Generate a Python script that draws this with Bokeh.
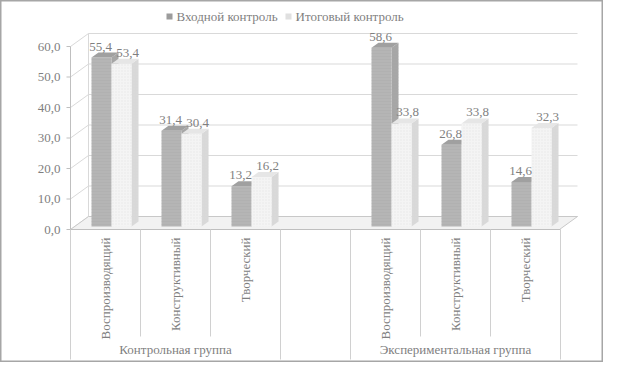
import math
from bokeh.plotting import figure
from bokeh.models import Range1d
from bokeh.core.properties import value
from bokeh.embed import file_html
from bokeh.resources import INLINE

# ---- data ----
categories = ["Воспроизводящий", "Конструктивный", "Творческий", "",
              "Воспроизводящий", "Конструктивный", "Творческий"]
groups = ["Контрольная группа", "", "Экспериментальная группа"]
group_spans = [(0, 3), (3, 4), (4, 7)]
series_names = ["Входной контроль", "Итоговый контроль"]
entry = [55.4, 31.4, 13.2, None, 58.6, 26.8, 14.6]
final = [53.4, 30.4, 16.2, None, 33.8, 33.8, 32.3]
y_ticks = [0, 10, 20, 30, 40, 50, 60]
y_tick_labels = ["0,0", "10,0", "20,0", "30,0", "40,0", "50,0", "60,0"]

W, H = 603, 362
PXU = 70.0   # pixels per category
PYU = 3.05   # pixels per value unit
PX = 1 / PXU
PY = 1 / PYU
X0, Y0 = 70, 229   # pixel position of the axes origin
FONT = value("Liberation Serif")
TXT = "#7f7f7f"
FS = "13px"

p = figure(width=W, height=H, output_backend="svg", toolbar_location=None,
           x_range=Range1d(-X0 / PXU, (W - X0) / PXU),
           y_range=Range1d((Y0 - H) / PYU, Y0 / PYU),
           min_border=0)
p.axis.visible = False
p.grid.visible = False
p.outline_line_color = "#a6a6a6"
p.outline_line_width = 2
p.background_fill_color = "white"

n = len(categories)
DX, DY = 18 * PX, 13 * PY   # wall depth

# back-wall gridlines and side diagonals
for t in y_ticks:
    p.line([DX, n + 17 * PX], [t + DY, t + DY], line_color="#d9d9d9", line_width=1)
    p.line([0, DX], [t, t + DY], line_color="#d9d9d9", line_width=1)
p.line([DX, DX], [DY, y_ticks[-1] + DY], line_color="#d9d9d9")
p.line([0, 0], [0, y_ticks[-1]], line_color="#bfbfbf")
# floor
p.patch([0, n - 1 * PX, n + 17 * PX, DX], [0, 0, DY, DY],
        fill_color="#f2f2f2", line_color="#c8c8c8")
# y ticks
for t in y_ticks:
    p.line([-4 * PX, 0], [t, t], line_color="#bfbfbf")
p.text(x=[-10 * PX] * len(y_ticks), y=y_ticks, text=y_tick_labels,
       text_align="right", text_baseline="middle", text_font=FONT,
       text_font_size=FS, text_color=TXT)

# category axis
p.line([0, n], [0, 0], line_color="#bfbfbf")
short_end = -107 * PY
long_end = -130 * PY
long_idx = set()
for a, b in group_spans:
    long_idx.add(a)
    long_idx.add(b)
for i in range(n + 1):
    p.line([i, i], [0, long_end if i in long_idx else short_end], line_color="#d0d0d0")
p.text(x=[i + 0.5 for i in range(n)], y=[-8 * PY] * n, text=categories,
       angle=math.pi / 2, text_align="right", text_baseline="middle",
       text_font=FONT, text_font_size=FS, text_color=TXT)
p.text(x=[(a + b) / 2 for a, b in group_spans], y=[-120 * PY] * len(groups),
       text=groups, text_align="center", text_baseline="middle",
       text_font=FONT, text_font_size=FS, text_color=TXT)

# 3D bars
BW = 20 * PX
OFF = 21 * PX
BD_X, BD_Y = 7 * PX, 5 * PY
LIFT = 3 * PY
LAB_SHIFT = [-1 * PX, 6 * PX]

styles = [
    dict(front="#b5b5b5", hatch="horizontal_line", hcol="#a8a8a8",
         top="#a0a0a0", side="#a6a6a6", leg="#9c9c9c", ha=0.3),
    dict(front="#f4f4f4", hatch="dot", hcol="#dadada",
         top="#e6e6e6", side="#d8d8d8", leg="#e0e0e0", ha=0.5),
]

lab_x, lab_y, lab_t = [], [], []
for s_idx, vals in enumerate([entry, final]):
    st = styles[s_idx]
    L, R, B, T = [], [], [], []
    txs, tys, sxs, sys_ = [], [], [], []
    for i, v in enumerate(vals):
        if v is None:
            continue
        x0 = i + OFF + s_idx * BW
        x1 = x0 + BW
        b = LIFT
        t = v + LIFT
        L.append(x0); R.append(x1); B.append(b); T.append(t)
        txs.append([x0, x1, x1 + BD_X, x0 + BD_X])
        tys.append([t, t, t + BD_Y, t + BD_Y])
        sxs.append([x1, x1 + BD_X, x1 + BD_X, x1])
        sys_.append([b, b + BD_Y, t + BD_Y, t])
        lab_x.append((x0 + x1) / 2 + LAB_SHIFT[s_idx])
        lab_y.append(t + BD_Y + 2 * PY)
        lab_t.append(f"{v:.1f}".replace(".", ","))
    p.patches(sxs, sys_, fill_color=st["side"], line_color=None,
              hatch_pattern=st["hatch"], hatch_color=st["hcol"], hatch_scale=3,
              hatch_alpha=st["ha"])
    p.quad(left=L, right=R, bottom=B, top=T, fill_color=st["front"], line_color=None,
           hatch_pattern=st["hatch"], hatch_color=st["hcol"], hatch_scale=3,
           hatch_alpha=st["ha"])
    p.patches(txs, tys, fill_color=st["top"], line_color=None)

p.text(x=lab_x, y=lab_y, text=lab_t, text_align="center", text_baseline="bottom",
       text_font=FONT, text_font_size=FS, text_color=TXT)

# legend (manual)
leg_x = [(166 - X0) * PX, (285 - X0) * PX]
leg_y = (Y0 - 16) * PY
for k in range(2):
    st = styles[k]
    p.quad(left=[leg_x[k]], right=[leg_x[k] + 6 * PX], bottom=[leg_y - 3 * PY],
           top=[leg_y + 3 * PY], fill_color=st["leg"], line_color=None)
p.text(x=[leg_x[0] + 10 * PX, leg_x[1] + 10 * PX], y=[leg_y, leg_y], text=series_names,
       text_align="left", text_baseline="middle", text_font=FONT,
       text_font_size=FS, text_color=TXT)

open("out.html", "w").write(file_html(p, INLINE))
